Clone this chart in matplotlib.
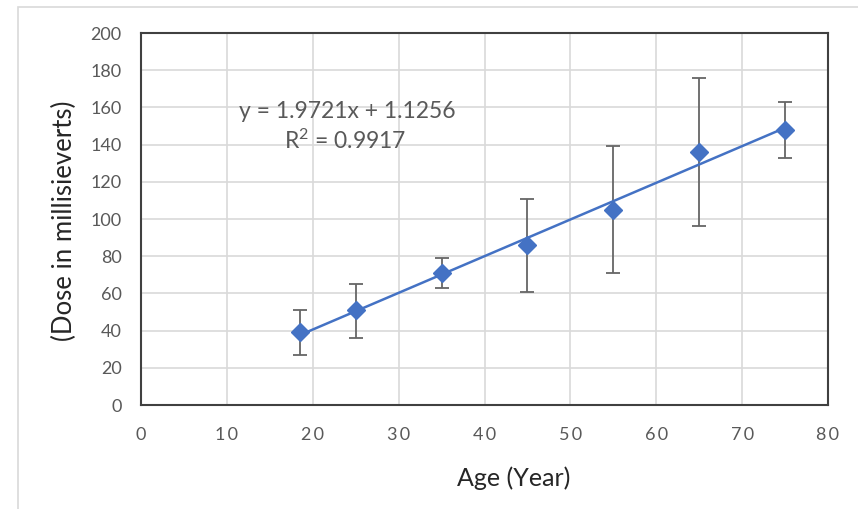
import numpy as np
import matplotlib.pyplot as plt
from matplotlib.patches import Rectangle

plt.rcParams['font.family'] = ['Lato', 'DejaVu Sans']
plt.rcParams['mathtext.fontset'] = 'custom'
plt.rcParams['mathtext.rm'] = 'Lato'
plt.rcParams['mathtext.it'] = 'Lato'

age = [18.5, 25, 35, 45, 55, 65, 75]
dose = [39, 51, 71, 86, 105, 136, 148]
err_low = [27, 36, 63, 61, 71, 96, 133]
err_high = [51, 65, 79, 111, 139, 176, 163]
slope = 1.9721
intercept = 1.1256
r2 = 0.9917

x_ticks = [0, 10, 20, 30, 40, 50, 60, 70, 80]
y_ticks = [0, 20, 40, 60, 80, 100, 120, 140, 160, 180, 200]

blue = '#4472C4'
gray_text = '#595959'

fig = plt.figure(figsize=(8.58, 5.09), dpi=100)
ax = fig.add_axes([141 / 858, 1 - 405 / 509, (828 - 141) / 858, (405 - 33) / 509])

# chart area frame
fig.patches.append(Rectangle((18 / 858, -0.05), 1.0, 1 - 7 / 509 + 0.05, transform=fig.transFigure,
                             fill=False, edgecolor='#d9d9d9', linewidth=1.2, zorder=0))

yerr = [np.array(dose) - np.array(err_low), np.array(err_high) - np.array(dose)]
ax.errorbar(age, dose, yerr=yerr, fmt='none', ecolor='#666666', elinewidth=1.3,
            capsize=5, capthick=1.3, zorder=3)

xs = np.array([age[0], age[-1]])
ax.plot(xs, slope * xs + intercept, color=blue, linewidth=1.8, zorder=4)
ax.plot(age, dose, linestyle='none', marker='D', markersize=9, color=blue, zorder=5)

ax.set_xlim(0, 80)
ax.set_ylim(0, 200)
ax.set_xticks(x_ticks)
ax.set_yticks(y_ticks)
ax.set_xticklabels(['\u2009'.join(str(t)) for t in x_ticks])
ax.grid(True, color='#d9d9d9', linewidth=1.2)
ax.set_axisbelow(True)
ax.tick_params(length=0, labelsize=13, colors=gray_text)
ax.tick_params(axis='x', pad=16)
ax.tick_params(axis='y', pad=14)
for s in ax.spines.values():
    s.set_color('#404040')
    s.set_linewidth(1.5)

ax.text(0.3, 0.79, 'y = %.4fx + %.4f' % (slope, intercept), transform=ax.transAxes,
        ha='center', va='center', fontsize=16.5, color=gray_text)
ax.text(0.297, 0.71, 'R$^2$ = %.4f' % r2, transform=ax.transAxes,
        ha='center', va='center', fontsize=16.5, color=gray_text)

fig.text(514 / 858, 1 - 478 / 509, 'Age (Year)', ha='center', va='center', fontsize=18, color='#262626')
fig.text(64 / 858, 1 - 221 / 509, '(Dose in millisieverts)', ha='center', va='center',
         rotation=90, fontsize=18.5, color='#262626')

fig.savefig('out.png', dpi=100)
